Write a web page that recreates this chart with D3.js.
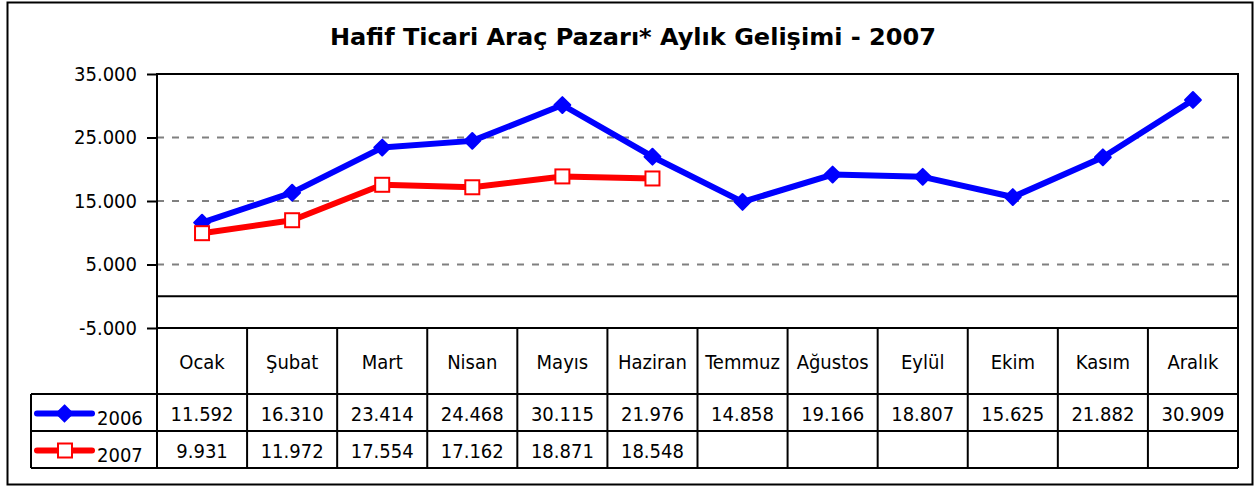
<!DOCTYPE html>
<html>
<head>
<meta charset="utf-8">
<script src="https://cdn.jsdelivr.net/npm/d3@7"></script>
<style>
  body { margin: 0; background: #fff; }
  text { font-family: "DejaVu Sans Condensed", "DejaVu Sans", Verdana, sans-serif; fill: #000; }
</style>
</head>
<body>
<div id="chart"></div>
<script>
// chart data
var months = ["Ocak", "Şubat", "Mart", "Nisan", "Mayıs", "Haziran", "Temmuz", "Ağustos", "Eylül", "Ekim", "Kasım", "Aralık"];
var sales_2006 = [11592, 16310, 23414, 24468, 30115, 21976, 14858, 19166, 18807, 15625, 21882, 30909];
var sales_2007 = [9931, 11972, 17554, 17162, 18871, 18548];
var y_ticks = [-5000, 5000, 15000, 25000, 35000];
var series_names = ["2006", "2007"];

const total_width = 1259
const total_height = 489
const plot = {left: 157, right: 1238, top: 74, bottom: 328}
const row_cat = 66, row_h = 37
const fs = 20

// turkish style thousands, plain hyphen for minus
var fmt = function(v) { return d3.format(",")(v).replace(/,/g, ".").replace("\u2212", "-") };

var svg = d3.select("#chart").append("svg").attr("width", total_width).attr("height", total_height);

// outer frame
svg.append("rect").attr("x", 7.5).attr("y", 2.5).attr("width", 1245).attr("height", 482)
  .style("fill", "#fff").style("stroke", "#000").style("stroke-width", 2);

svg.append("text").attr("x", 633).attr("y", 45).attr("text-anchor", "middle")
  .attr("font-size", 23).attr("font-weight", "bold")
  .attr("textLength", 606).attr("lengthAdjust", "spacingAndGlyphs")
  .text("Hafif Ticari Araç Pazarı* Aylık Gelişimi - 2007");

var x = d3.scaleBand().domain(months).range([plot.left, plot.right]);
var y = d3.scaleLinear().domain([-5000, 35000]).range([plot.bottom, plot.top]);

// dashed grid
svg.append("g").selectAll("line").data(y_ticks.filter(function(d) {return d > 0})).join("line")
  .attr("x1", plot.left).attr("x2", plot.right)
  .attr("y1", function(d) {return y(d)}).attr("y2", function(d) {return y(d)})
  .style("stroke", "#808080").style("stroke-width", 2).style("stroke-dasharray", "7,8");

// zero line
svg.append("line").attr("x1", plot.left).attr("x2", plot.right).attr("y1", y(0)).attr("y2", y(0))
  .style("stroke", "#000").style("stroke-width", 2);

// plot frame
svg.append("rect").attr("x", plot.left).attr("y", plot.top)
  .attr("width", plot.right - plot.left).attr("height", plot.bottom - plot.top)
  .style("fill", "none").style("stroke", "#000").style("stroke-width", 2);

var yAxis = d3.axisLeft(y).tickValues(y_ticks).tickFormat(fmt).tickSize(10).tickPadding(10);
var gy = svg.append("g").attr("transform", "translate(" + plot.left + ",0)").call(yAxis);
gy.select(".domain").remove();
gy.attr("font-family", null).attr("font-size", null);
gy.selectAll("line").style("stroke", "#000").style("stroke-width", 2);
gy.selectAll("text").attr("font-size", fs);

// lines
var line = d3.line().x(function(d, i) {return x(months[i]) + x.bandwidth() / 2}).y(function(d) {return y(d)});

svg.append("path").datum(sales_2006).attr("d", line)
  .style("fill", "none").style("stroke", "#0000ff").style("stroke-width", 6).style("stroke-linejoin", "round");
svg.append("path").datum(sales_2007).attr("d", line)
  .style("fill", "none").style("stroke", "#ff0000").style("stroke-width", 6).style("stroke-linejoin", "round");

var diamond = d3.symbol().type(d3.symbolDiamond2).size(160);
svg.append("g").selectAll("path").data(sales_2006).join("path")
  .attr("transform", function(d, i) {return "translate(" + (x(months[i]) + x.bandwidth() / 2) + "," + y(d) + ")"})
  .attr("d", diamond).style("fill", "#0000ff").style("stroke", "#0000ff").style("stroke-width", 2).style("stroke-linejoin", "round");

svg.append("g").selectAll("rect").data(sales_2007).join("rect")
  .attr("x", function(d, i) {return x(months[i]) + x.bandwidth() / 2 - 7})
  .attr("y", function(d) {return y(d) - 7})
  .attr("width", 14).attr("height", 14)
  .style("fill", "#fff").style("stroke", "#ff0000").style("stroke-width", 2);

// data table
var t_top = plot.bottom;
var t = svg.append("g").style("stroke", "#000").style("stroke-width", 2);
var t_bottom = t_top + row_cat + 2 * row_h;
x.domain().forEach(function(m) {
  t.append("line").attr("x1", x(m)).attr("x2", x(m)).attr("y1", t_top).attr("y2", t_bottom);
});
t.append("line").attr("x1", plot.right).attr("x2", plot.right).attr("y1", t_top).attr("y2", t_bottom);
t.append("line").attr("x1", 31).attr("x2", plot.right).attr("y1", t_top + row_cat).attr("y2", t_top + row_cat);
t.append("line").attr("x1", 31).attr("x2", plot.right).attr("y1", t_top + row_cat + row_h).attr("y2", t_top + row_cat + row_h);
t.append("line").attr("x1", 31).attr("x2", plot.right).attr("y1", t_bottom).attr("y2", t_bottom);
t.append("line").attr("x1", 31).attr("x2", 31).attr("y1", t_top + row_cat).attr("y2", t_bottom);

svg.append("g").selectAll("text").data(months).join("text")
  .attr("x", function(d) {return x(d) + x.bandwidth() / 2}).attr("y", t_top + row_cat / 2 + 8)
  .attr("text-anchor", "middle").attr("font-size", fs).text(function(d) {return d});

[sales_2006, sales_2007].forEach(function(vals, r) {
  var ry = t_top + row_cat + r * row_h + row_h / 2 + 8;
  svg.append("g").selectAll("text").data(vals).join("text")
    .attr("x", function(d, i) {return x(months[i]) + x.bandwidth() / 2}).attr("y", ry)
    .attr("text-anchor", "middle").attr("font-size", fs).text(function(d) {return fmt(d)});
});

// legend keys inside the table
var colors = ["#0000ff", "#ff0000"];
series_names.forEach(function(name, r) {
  var cy = t_top + row_cat + r * row_h + row_h / 2 + 1;
  svg.append("line").attr("x1", 37).attr("x2", 92).attr("y1", cy).attr("y2", cy)
    .style("stroke", colors[r]).style("stroke-width", 6).style("stroke-linecap", "round");
  if (r == 0) {
    svg.append("path").attr("transform", "translate(64.5," + cy + ")").attr("d", diamond)
      .style("fill", colors[r]).style("stroke", colors[r]).style("stroke-width", 2);
  } else {
    svg.append("rect").attr("x", 58).attr("y", cy - 7).attr("width", 14).attr("height", 14)
      .style("fill", "#fff").style("stroke", colors[r]).style("stroke-width", 2);
  }
  svg.append("text").attr("x", 97).attr("y", cy + 11).attr("font-size", fs).text(name);
});
</script>
</body>
</html>
